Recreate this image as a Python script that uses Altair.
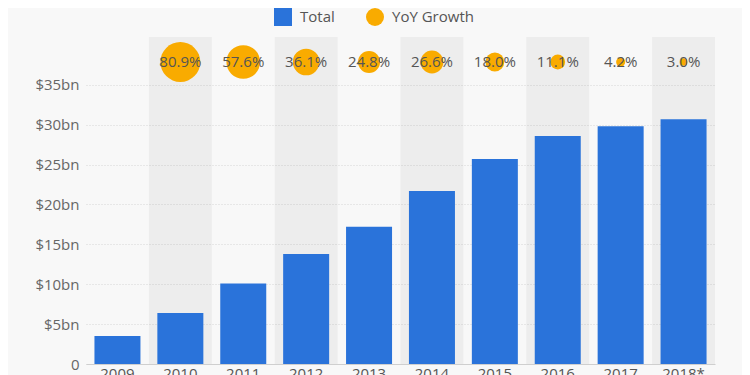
import altair as alt
import pandas as pd

years = ["2009", "2010", "2011", "2012", "2013", "2014", "2015", "2016", "2017", "2018*"]
totals = [3.5, 6.4, 10.1, 13.8, 17.2, 21.7, 25.7, 28.6, 29.8, 30.7]
growth = [None, 80.9, 57.6, 36.1, 24.8, 26.6, 18.0, 11.1, 4.2, 3.0]
shaded = [False, True, False, True, False, True, False, True, False, True]
y_ticks = [0, 5, 10, 15, 20, 25, 30, 35]

BLUE = "#2a73da"
ORANGE = "#f9ab00"
FONT = "Open Sans"
W, H = 629, 327

df = pd.DataFrame({"year": years, "total": totals, "growth": growth, "shaded": shaded})
df["series_bar"] = "Total"
df["series_dot"] = "YoY Growth"
df["label"] = [("" if g is None else f"{g:.1f}%") for g in growth]

x = alt.X("year:N", sort=years,
          scale=alt.Scale(paddingInner=0.27, paddingOuter=0.135),
          axis=alt.Axis(title=None, labelAngle=0, labelFontSize=15, labelColor="#555",
                        labelFont=FONT, domainColor="#cfcfcf", ticks=False, labelPadding=2,
                        grid=False))

color_scale = alt.Scale(domain=["Total", "YoY Growth"], range=[BLUE, ORANGE])
shape_scale = alt.Scale(domain=["Total", "YoY Growth"], range=["square", "circle"])
legend = alt.Legend(title=None, orient="none", legendX=188, legendY=-29, direction="horizontal",
                    symbolSize=324, labelFontSize=15, labelFont=FONT, labelColor="#555",
                    labelOffset=8, columnPadding=31, symbolStrokeWidth=0, symbolOpacity=1)

base = alt.Chart(df)

shade = base.transform_filter("datum.shaded").mark_bar(size=63, color="#000", opacity=0.045).encode(
    x=x, y=alt.value(0), y2=alt.value(H))

bars = base.mark_bar(size=46).encode(
    x=x,
    y=alt.Y("total:Q", scale=alt.Scale(domain=[0, 41], nice=False),
            axis=alt.Axis(title=None, values=y_ticks, labelFontSize=15, labelColor="#666",
                          labelFont=FONT, domain=False, ticks=False, labelPadding=7,
                          gridColor="#d6d6d6", gridDash=[1, 2],
                          labelExpr="datum.value == 0 ? '0' : '$' + datum.value + 'bn'")),
    color=alt.Color("series_bar:N", scale=color_scale, legend=legend))

dots = base.transform_filter("datum.growth != null").mark_point(filled=True, opacity=1).encode(
    x=x, y=alt.value(25),
    size=alt.Size("growth:Q", scale=alt.Scale(domain=[0, 80.9], range=[0, 1590]), legend=None),
    color=alt.Color("series_dot:N", scale=color_scale, legend=legend),
    shape=alt.Shape("series_dot:N", scale=shape_scale, legend=legend))

texts = base.mark_text(fontSize=15, font=FONT, color="#555", baseline="middle").encode(
    x=x, y=alt.value(25), text="label:N")

chart = alt.layer(shade, bars, dots, texts).properties(
    width=W, height=H,
    autosize=alt.AutoSizeParams(type="none"),
    padding={"left": 78, "top": 29, "right": 27, "bottom": 11},
    background="#f8f8f8",
).resolve_scale(color="shared").configure_view(stroke=None)

chart.save("out.html", embed_options={"renderer": "svg", "actions": False})
